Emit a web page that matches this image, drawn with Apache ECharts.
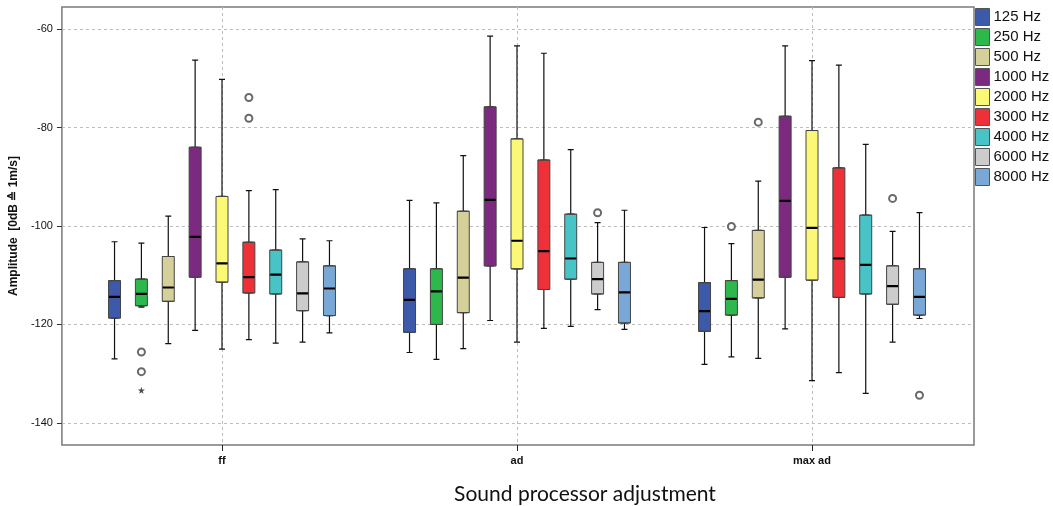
<!DOCTYPE html>
<html>
<head>
    <meta charset="utf-8">
    <title>Sound processor adjustment</title>
    <script src="https://cdn.jsdelivr.net/npm/echarts@6/dist/echarts.min.js"></script>
    <style>
        * {
            margin: 0;
            padding: 0;
        }
        #main {
            width: 1053px;
            height: 506px;
        }
    </style>
</head>
<body>
<div id="main"></div>
<script>
    // groups on the x axis
    var groups = ['ff', 'ad', 'max ad'];
    var yTicks = [-140, -120, -100, -80, -60];

    var freqNames = ['125 Hz', '250 Hz', '500 Hz', '1000 Hz', '2000 Hz', '3000 Hz', '4000 Hz', '6000 Hz', '8000 Hz'];
    var freqColors = ['#3d59aa', '#2db84b', '#d5d09a', '#7b2a7f', '#faf874', '#ee3038', '#48c4c7', '#cccccc', '#7aa8d6'];

    // [min, Q1, median, Q3, max] for ff, ad, max ad
    var hz125 = [[-127.0, -118.7, -114.4, -111.1, -103.2], [-125.7, -121.6, -115.0, -108.7, -94.8], [-128.1, -121.4, -117.3, -111.5, -100.3]];
    var hz250 = [[-116.5, -116.2, -113.8, -110.8, -103.5], [-127.1, -120.0, -113.3, -108.7, -95.3], [-126.6, -118.1, -114.8, -111.1, -103.6]];
    var hz500 = [[-123.9, -115.3, -112.5, -106.2, -98.0], [-124.9, -117.6, -110.5, -97.0, -85.7], [-126.9, -114.6, -110.9, -100.9, -90.9]];
    var hz1000 = [[-121.2, -110.4, -102.2, -84.0, -66.3], [-119.2, -108.1, -94.7, -75.8, -61.4], [-120.9, -110.4, -94.9, -77.7, -63.4]];
    var hz2000 = [[-125.0, -111.4, -107.6, -94.0, -70.2], [-123.6, -108.7, -103.0, -82.3, -63.4], [-131.4, -111.0, -100.4, -80.6, -66.4]];
    var hz3000 = [[-123.1, -113.6, -110.4, -103.3, -92.8], [-120.8, -112.9, -105.1, -86.6, -64.9], [-129.8, -114.5, -106.6, -88.2, -67.3]];
    var hz4000 = [[-123.8, -113.8, -109.9, -104.9, -92.6], [-120.4, -110.8, -106.6, -97.6, -84.5], [-134.0, -113.8, -107.9, -97.8, -83.4]];
    var hz6000 = [[-123.6, -117.2, -113.7, -107.3, -102.6], [-117.0, -113.8, -110.8, -107.4, -99.3], [-123.6, -115.9, -112.2, -108.1, -101.1]];
    var hz8000 = [[-121.7, -118.2, -112.7, -108.1, -103.0], [-121.0, -119.7, -113.5, -107.4, -96.8], [-118.8, -118.1, -114.4, -108.7, -97.3]];
    var boxData = [hz125, hz250, hz500, hz1000, hz2000, hz3000, hz4000, hz6000, hz8000];

    // outliers: [frequency index, group index, value]
    var outliers = [[1, 0, -125.6], [1, 0, -129.6], [5, 0, -73.9], [5, 0, -78.1], [7, 1, -97.3],
        [1, 2, -100.1], [2, 2, -78.9], [7, 2, -94.4], [8, 2, -134.4]];
    var extremes = [[1, 0, -133.4]];

    var chart = echarts.init(document.getElementById('main'));
    var font = 'Liberation Sans, Arial, sans-serif';
    var yMin = -144.5, yMax = -55.5;

    // same spacing rule echarts uses for side by side boxplots
    var band = (1053 - 74.5 - 93.5) / groups.length;
    var avail = band * 0.8 - 2;
    var gap = avail / freqNames.length * 0.3;
    var bw = (avail - gap * (freqNames.length - 1)) / freqNames.length;
    var offsets = freqNames.map(function (n, i) {
        return bw / 2 - avail / 2 + i * (bw + gap);
    });

    var series = [];
    // boxes
    boxData.forEach(function (d, i) {
        series.push({
            name: freqNames[i],
            type: 'boxplot',
            xAxisIndex: 1, yAxisIndex: 1,
            boxWidth: [12, 12],
            z: 3,
            itemStyle: {color: freqColors[i], borderColor: '#454545', borderWidth: 1},
            data: d.map(function (v) { return [v[1], v[1], v[2], v[3], v[3]]; })
        });
    });
    // whiskers
    boxData.forEach(function (d, i) {
        series.push({
            name: freqNames[i],
            type: 'boxplot',
            xAxisIndex: 2, yAxisIndex: 1,
            boxWidth: [6, 6],
            z: 2,
            itemStyle: {color: freqColors[i], borderColor: '#111', borderWidth: 1.2},
            data: d
        });
    });
    // medians
    boxData.forEach(function (d, i) {
        series.push({
            name: freqNames[i],
            type: 'boxplot',
            xAxisIndex: 3, yAxisIndex: 1,
            boxWidth: [11, 11],
            z: 4,
            itemStyle: {color: '#000', borderColor: '#000', borderWidth: 2.2},
            data: d.map(function (v) { return [v[2], v[2], v[2], v[2], v[2]]; })
        });
    });
    series.push({
        name: 'outliers',
        type: 'scatter',
        xAxisIndex: 1, yAxisIndex: 1,
        z: 5,
        symbol: 'emptyCircle',
        symbolSize: 7,
        itemStyle: {color: '#444', borderColor: '#444', borderWidth: 1},
        data: outliers.map(function (o) {
            return {value: [o[1], o[2]], symbolOffset: [offsets[o[0]], 0]};
        })
    });
    series.push({
        name: 'extremes',
        type: 'scatter',
        xAxisIndex: 1, yAxisIndex: 1,
        z: 5,
        symbol: 'path://M0,-10 L2.4,-3.1 9.5,-3.1 3.8,1.2 5.9,8.1 0,4 -5.9,8.1 -3.8,1.2 -9.5,-3.1 -2.4,-3.1 Z',
        symbolSize: 7,
        itemStyle: {color: '#222'},
        data: extremes.map(function (o) {
            return {value: [o[1], o[2]], symbolOffset: [offsets[o[0]], 0]};
        })
    });

    var hiddenCat = function (idx) {
        return {type: 'category', gridIndex: 1, data: groups, show: false, id: 'x' + idx};
    };

    option = {
        animation: false,
        backgroundColor: '#fff',
        grid: [
            {left: 60, top: 7, width: 914, height: 438, show: true, borderColor: '#7a7a7a', borderWidth: 1.5},
            {left: 74.5, right: 93.5, top: 7, height: 438}
        ],
        legend: {
            data: freqNames.map(function (n, i) {
                return {name: n, itemStyle: {color: freqColors[i], borderColor: '#555', borderWidth: 1}};
            }),
            orient: 'vertical',
            left: 975,
            top: 8,
            padding: 0,
            icon: 'rect',
            itemWidth: 14,
            itemHeight: 17,
            itemGap: 2,
            textStyle: {fontFamily: font, fontSize: 15, color: '#111', padding: [0, 0, 0, -1]}
        },
        xAxis: [
            {type: 'value', gridIndex: 0, min: 0, max: 1, show: false},
            {
                type: 'category',
                gridIndex: 1,
                data: groups,
                axisLine: {show: false},
                axisTick: {show: true, alignWithLabel: true, length: 6, lineStyle: {color: '#222'}},
                axisLabel: {fontFamily: font, fontSize: 11, fontWeight: 'bold', color: '#111', margin: 10},
                splitLine: {show: true, alignWithLabel: true, lineStyle: {color: '#bdbdbd', type: [3, 3]}}
            },
            hiddenCat(2),
            hiddenCat(3)
        ],
        yAxis: [
            {
                type: 'value',
                gridIndex: 0,
                min: yMin,
                max: yMax,
                name: 'Amplitude  [0dB \u2259 1m/s]',
                nameLocation: 'middle',
                nameGap: 41,
                nameTextStyle: {fontFamily: font, fontSize: 12, fontWeight: 'bold', color: '#111'},
                axisLine: {show: false},
                axisTick: {show: true, length: 5, customValues: yTicks, lineStyle: {color: '#333'}},
                axisLabel: {customValues: yTicks, fontFamily: font, fontSize: 11, color: '#111', margin: 9},
                splitLine: {show: true, lineStyle: {color: '#bdbdbd', type: [3, 3]}}
            },
            {type: 'value', gridIndex: 1, min: yMin, max: yMax, show: false}
        ],
        graphic: [{
            type: 'text',
            x: 585,
            y: 484,
            style: {
                text: 'Sound processor adjustment',
                fontFamily: 'Lato, sans-serif',
                fontSize: 21,
                fill: '#111',
                align: 'center',
                verticalAlign: 'top'
            }
        }],
        series: series
    };
    chart.setOption(option);
</script>
</body>
</html>
